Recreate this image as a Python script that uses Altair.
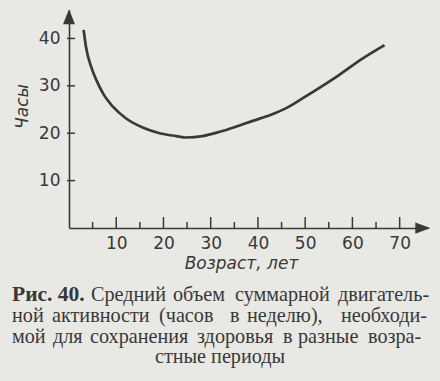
import altair as alt
import pandas as pd

# ---- data ----
age = [3.1, 3.6, 4.7, 5.8, 7.2, 9.3, 12.1, 15.6, 19.2, 22.7, 24.8, 28.3, 31.9,
       35.4, 38.9, 42.5, 46.0, 49.5, 56.6, 62.2, 66.8]
hours = [41.8, 38.2, 34.0, 31.2, 28.4, 25.6, 23.1, 21.2, 20.0, 19.4, 19.1, 19.4,
         20.3, 21.4, 22.6, 23.8, 25.3, 27.4, 31.9, 35.8, 38.6]
x_major = [10, 20, 30, 40, 50, 60, 70]
x_minor = [5, 15, 25, 35, 45, 55, 65]
y_ticks = [10, 20, 30, 40]

x_title = "Возраст, лет"
y_title = "Часы"
cap_bold = "Рис. 40."
cap_words = [
    ["Средний", "объем", "суммарной", "двигатель-"],
    ["ной", "активности", "(часов", "в", "неделю),", "необходи-"],
    ["мой", "для", "сохранения", "здоровья", "в", "разные", "возра-"],
]
cap_last = "стные периоды"

# ---- layout (pixels) ----
LEFT, TOP = 69, 10
W, H = 359, 218
XMAX, YMAX = 76, 46
INK = "#383838"
BG = "#e8e8e4"
word_starts = [
    [91, 173, 235, 338],
    [12, 52, 159, 230, 247, 341],
    [12, 53, 90, 197, 283, 298, 368],
]
baselines = [300.5, 321.5, 342.5, 363]
CAP_FS = 20.2

xs = alt.Scale(domain=[0, XMAX], nice=False, zero=False)
ys = alt.Scale(domain=[0, YMAX], nice=False, zero=False)

curve_df = pd.DataFrame({"age": age, "hours": hours})

xaxis = alt.Axis(values=x_major, ticks=False, grid=False, domain=True,
                 domainColor=INK, domainWidth=1.6, labelFont="DejaVu Sans",
                 labelFontSize=17, labelColor=INK, labelPadding=7,
                 title=x_title, titleFont="DejaVu Sans", titleFontSize=17,
                 titleFontStyle="italic", titleFontWeight="normal",
                 titleColor=INK, titlePadding=4, titleX=241 - LEFT)
yaxis = alt.Axis(values=y_ticks, ticks=False, grid=False, domain=True,
                 domainColor=INK, domainWidth=1.6, labelFont="DejaVu Sans",
                 labelFontSize=17, labelColor=INK, labelPadding=9,
                 title=y_title, titleFont="DejaVu Sans", titleFontSize=17,
                 titleFontStyle="italic", titleFontWeight="normal",
                 titleColor=INK, titlePadding=7, titleY=106 - TOP)

curve = alt.Chart(curve_df).mark_line(
    color=INK, strokeWidth=2.7, interpolate="monotone"
).encode(
    x=alt.X("age:Q", scale=xs, axis=xaxis),
    y=alt.Y("hours:Q", scale=ys, axis=yaxis),
)

maj = alt.Chart(pd.DataFrame({"v": x_major})).mark_rule(
    color=INK, strokeWidth=1.5
).encode(x=alt.X("v:Q", scale=xs), y=alt.value(H), y2=alt.value(H - 11))

mino = alt.Chart(pd.DataFrame({"v": x_minor})).mark_rule(
    color=INK, strokeWidth=1.5
).encode(x=alt.X("v:Q", scale=xs), y=alt.value(H), y2=alt.value(H - 6))

yt = alt.Chart(pd.DataFrame({"v": y_ticks})).mark_rule(
    color=INK, strokeWidth=1.5
).encode(y=alt.Y("v:Q", scale=ys), x=alt.value(-2), x2=alt.value(6))

arrow_up = alt.Chart(pd.DataFrame({"a": [0]})).mark_point(
    shape="M-0.8,1L0,-1L0.8,1Z", size=225, filled=True, opacity=1,
    color=INK, strokeWidth=0
).encode(x=alt.datum(0, scale=xs), y=alt.datum(44.6, scale=ys))

arrow_right = alt.Chart(pd.DataFrame({"a": [0]})).mark_point(
    shape="M-1,-0.75L1,0L-1,0.75Z", size=225, filled=True, opacity=1,
    color=INK, strokeWidth=0
).encode(x=alt.datum(74.9, scale=xs), y=alt.datum(0, scale=ys))

# caption: words placed to mimic the justified book text
rows = []
for i, words in enumerate(cap_words):
    for w, sx in zip(words, word_starts[i]):
        rows.append({"t": w, "px": sx - LEFT, "py": baselines[i] - TOP})

def text_layer(rows, align, weight="normal", fs=CAP_FS):
    return alt.Chart(pd.DataFrame(rows)).mark_text(
        font="Liberation Serif", fontSize=fs, fontWeight=weight, color=INK,
        align=align, baseline="alphabetic"
    ).encode(text="t:N", x=alt.X("px:Q", scale=None), y=alt.Y("py:Q", scale=None))

cap_l = text_layer(rows, "left")
cap_b = text_layer([{"t": cap_bold, "px": 12 - LEFT, "py": baselines[0] - TOP}],
                   "left", weight="bold", fs=21.5)
cap_c = text_layer([{"t": cap_last, "px": 220 - LEFT, "py": baselines[3] - TOP}],
                   "center")

chart = alt.layer(curve, maj, mino, yt, arrow_up, arrow_right,
                  cap_l, cap_b, cap_c).properties(
    width=W, height=H,
    autosize=alt.AutoSizeParams(type="none"),
    padding={"left": LEFT, "top": TOP, "right": 440 - LEFT - W, "bottom": 381 - TOP - H},
    background=BG,
).configure_view(stroke=None)

chart.save("out.html", embed_options={"renderer": "svg", "actions": False})
